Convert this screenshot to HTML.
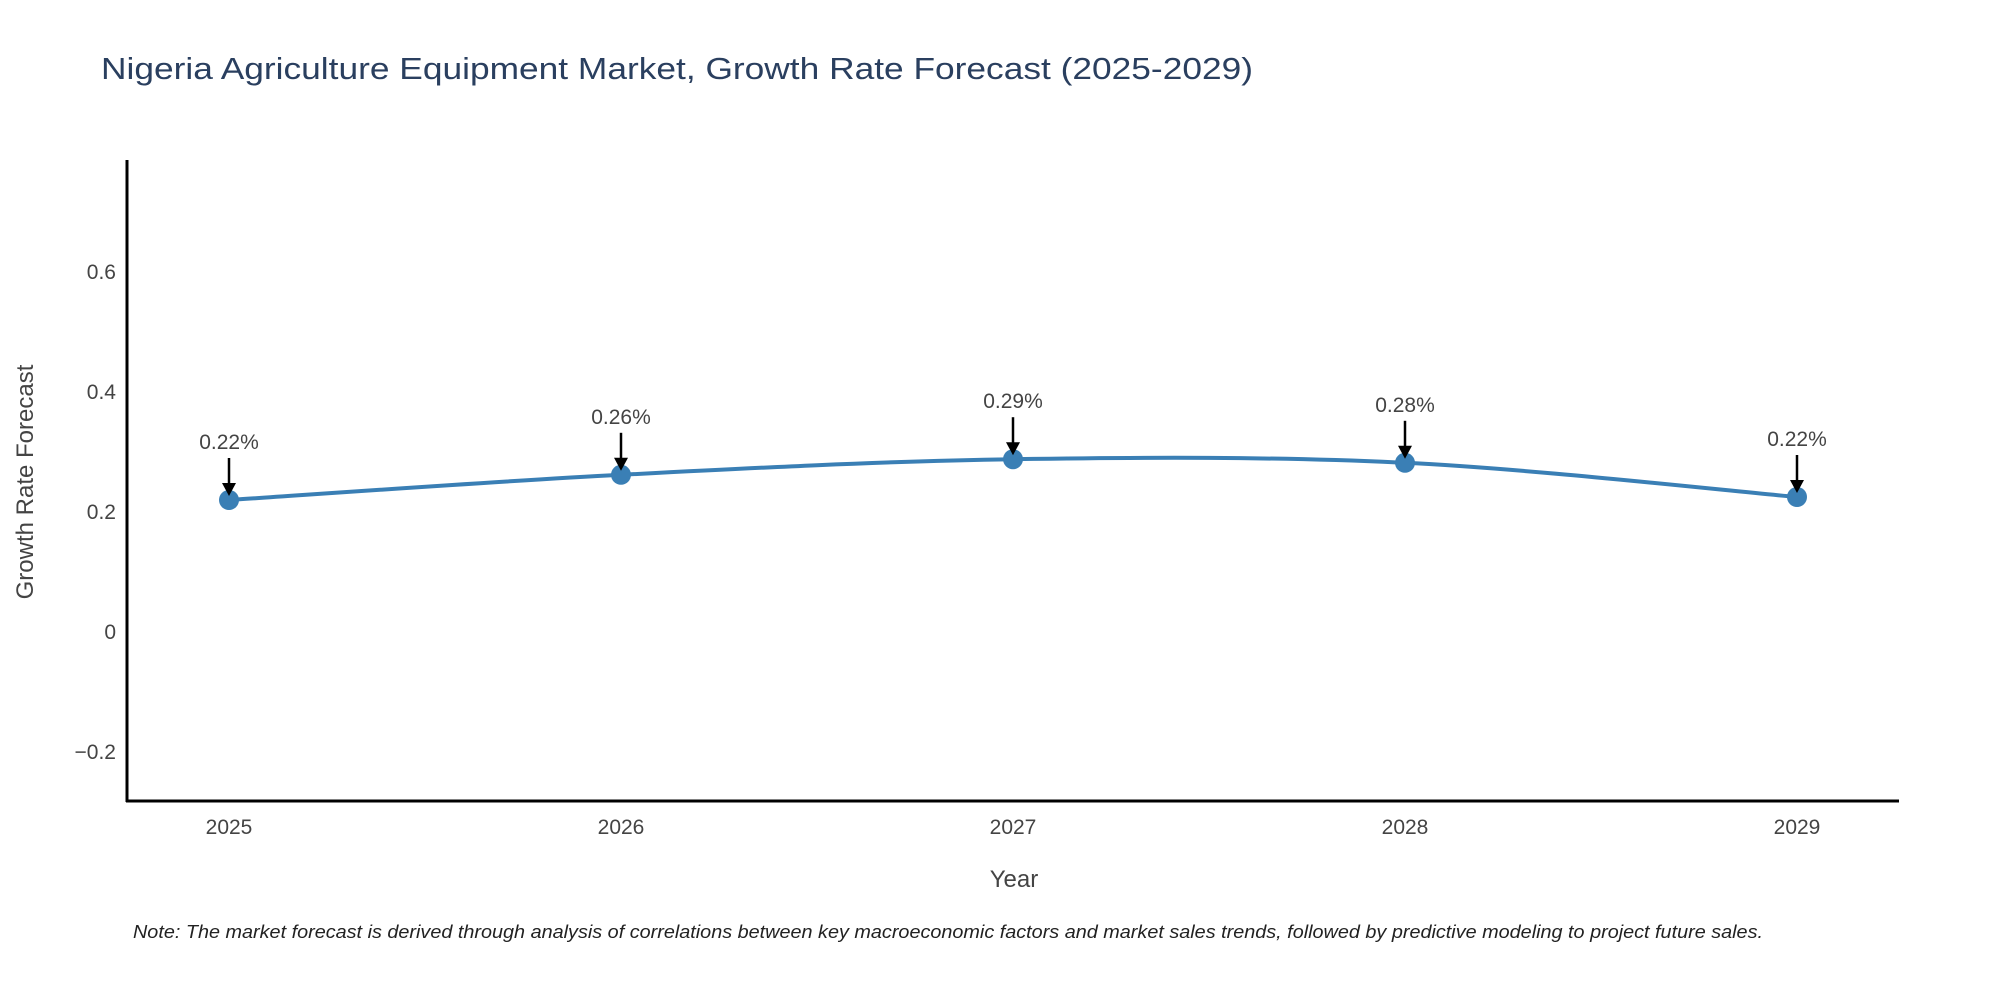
<!DOCTYPE html>
<html><head><meta charset="utf-8"><style>
body{margin:0;background:#fff}
svg{display:block;font-family:"Liberation Sans","DejaVu Sans",sans-serif}
</style></head><body>
<svg id="chart" width="2000" height="1000" viewBox="0 0 2000 1000">
<text x="101" y="79" font-size="31" fill="#2a3f5f" textLength="1152" lengthAdjust="spacingAndGlyphs">Nigeria Agriculture Equipment Market, Growth Rate Forecast (2025-2029)</text>
<g id="yticks"></g>
<g id="xticks"></g>
<line x1="127" y1="160" x2="127" y2="802" stroke="#000" stroke-width="3"/>
<line x1="126" y1="801" x2="1899" y2="801" stroke="#000" stroke-width="3"/>
<path id="line" fill="none" stroke="#3a7fb5" stroke-width="4"/>
<g id="points"></g>
<g id="annots"></g>
<text x="1014" y="887" font-size="24" fill="#444" text-anchor="middle">Year</text>
<text transform="translate(33,482) rotate(-90)" font-size="24" fill="#444" text-anchor="middle">Growth Rate Forecast</text>
<text x="133" y="938" font-size="18" font-style="italic" fill="#222" textLength="1630" lengthAdjust="spacingAndGlyphs">Note: The market forecast is derived through analysis of correlations between key macroeconomic factors and market sales trends, followed by predictive modeling to project future sales.</text>
</svg>
<script>
const years = [2025, 2026, 2027, 2028, 2029];
const values = [0.22, 0.262, 0.288, 0.282, 0.225];
const labels = ["0.22%", "0.26%", "0.29%", "0.28%", "0.22%"];
const yTickVals = [-0.2, 0, 0.2, 0.4, 0.6];
const yTickLabels = ["\u22120.2", "0", "0.2", "0.4", "0.6"];

const NS = "http://www.w3.org/2000/svg";
function xs(y){ return 229 + (y - 2025) * 392; }
function ys(v){ return 632 - v * 600; }
function mk(tag, attrs, parent, txt){
  const e = document.createElementNS(NS, tag);
  for (const k in attrs) e.setAttribute(k, attrs[k]);
  if (txt !== undefined) e.textContent = txt;
  parent.appendChild(e); return e;
}
const yt = document.getElementById('yticks');
yTickVals.forEach((v, i) => {
  const t = mk('text', {x: 116, y: ys(v) + 7, 'font-size': 21, fill: '#444', 'text-anchor': 'end'}, yt, yTickLabels[i]);
  
  
});
const xt = document.getElementById('xticks');
years.forEach(y => {
  const t = mk('text', {x: xs(y), y: 834, 'font-size': 21, fill: '#444', 'text-anchor': 'middle'}, xt, String(y));
  
  
});
const P = years.map((y, i) => [xs(y), ys(values[i])]);
let d = `M${P[0][0]},${P[0][1]}`;
for (let i = 0; i < P.length - 1; i++) {
  const p0 = P[i-1] || P[i], p1 = P[i], p2 = P[i+1], p3 = P[i+2] || P[i+1];
  const t = 1/6;
  d += ` C${p1[0]+(p2[0]-p0[0])*t},${p1[1]+(p2[1]-p0[1])*t} ${p2[0]-(p3[0]-p1[0])*t},${p2[1]-(p3[1]-p1[1])*t} ${p2[0]},${p2[1]}`;
}
document.getElementById('line').setAttribute('d', d);
const pts = document.getElementById('points');
const an = document.getElementById('annots');
P.forEach((p, i) => {
  const c = mk('circle', {cx: p[0], cy: p[1], r: 10, fill: '#3a7fb5'}, pts);
  
  
  const l = mk('line', {x1: p[0], y1: p[1] - 42, x2: p[0], y2: p[1] - 14, stroke: '#000', 'stroke-width': 2.5}, an);
  
  
  const h = mk('path', {d: `M${p[0]-7},${p[1]-17} L${p[0]+7},${p[1]-17} L${p[0]},${p[1]-4} Z`, fill: '#000'}, an);
  
  
  const t = mk('text', {x: p[0], y: p[1] - 51, 'font-size': 21, fill: '#444', 'text-anchor': 'middle'}, an, labels[i]);
  
  
});
</script>
</body></html>
